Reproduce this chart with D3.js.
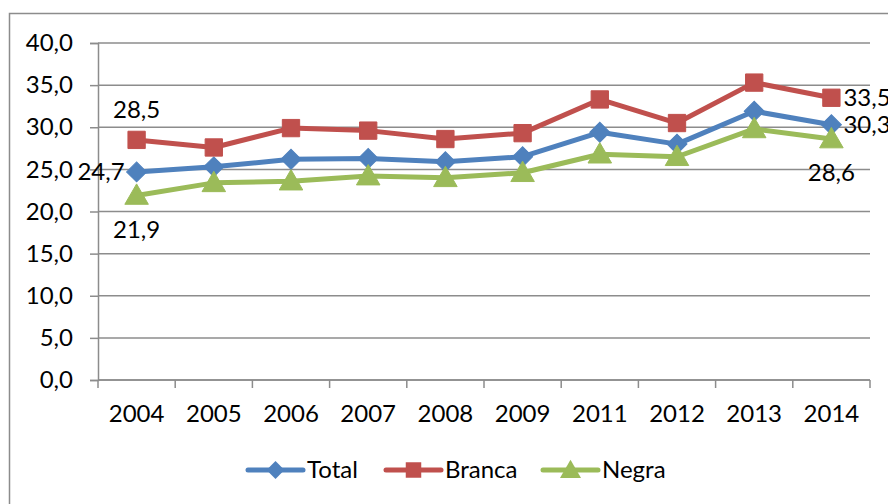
<!DOCTYPE html>
<html>
<head>
<meta charset="utf-8">
<script src="https://cdn.jsdelivr.net/npm/d3@7"></script>
<style>
  body { margin: 0; background: #fff; }
  svg text { font-family: Lato, "Open Sans", sans-serif; fill: #000; }
</style>
</head>
<body>
<div id="chart"></div>
<script>
var years = ["2004", "2005", "2006", "2007", "2008", "2009", "2011", "2012", "2013", "2014"];
var total = [24.7, 25.3, 26.2, 26.3, 25.9, 26.5, 29.4, 28.0, 31.9, 30.3];
var branca = [28.5, 27.6, 29.9, 29.6, 28.6, 29.3, 33.3, 30.5, 35.3, 33.5];
var negra = [21.9, 23.4, 23.6, 24.2, 24.0, 24.6, 26.8, 26.5, 29.8, 28.6];
var yTicks = [0, 5, 10, 15, 20, 25, 30, 35, 40];

var svgWidth = 888;
var svgHeight = 504;

var margin = { top: 43, left: 98, right: 18, bottom: 124 };
var width = svgWidth - margin.left - margin.right;
var height = svgHeight - margin.top - margin.bottom;

var svg = d3.select("#chart").append("svg")
    .attr("width", svgWidth)
    .attr("height", svgHeight);

// outer chart frame
svg.append("rect")
    .attr("x", 9.5).attr("y", 13.5)
    .attr("width", 900).attr("height", 520)
    .attr("fill", "none")
    .attr("stroke", "#8c8c8c")
    .attr("stroke-width", 1.5);

var g = svg.append("g")
    .attr("transform", `translate(${margin.left}, ${margin.top})`);

var x = d3.scaleBand().domain(years).range([0, width]);
var y = d3.scaleLinear().domain([0, 40]).range([height, 0]);

var fmt = v => d3.format(".1f")(v).replace(".", ",");

// gridlines
g.selectAll(".grid")
    .data(yTicks)
    .enter()
    .append("line")
    .attr("x1", 0).attr("x2", width)
    .attr("y1", d => y(d)).attr("y2", d => y(d))
    .attr("stroke", "#8c8c8c")
    .attr("stroke-width", 1.5);

// y axis
var leftAxis = d3.axisLeft(y).tickValues(yTicks).tickFormat(fmt).tickSize(8).tickPadding(17);
var yAxis = g.append("g").call(leftAxis);
yAxis.select(".domain").attr("stroke", "#8c8c8c").attr("stroke-width", 1.5);
yAxis.selectAll(".tick line").attr("stroke", "#8c8c8c").attr("stroke-width", 1.5);
yAxis.selectAll("text").attr("font-size", "24px").attr("fill", "#000");

// x axis
var bottomAxis = d3.axisBottom(x).tickSize(0).tickPadding(25);
var xAxis = g.append("g").attr("transform", `translate(0, ${height})`).call(bottomAxis);
xAxis.select(".domain").remove();
xAxis.selectAll("text").attr("font-size", "24px").attr("fill", "#000");

g.append("line")
    .attr("x1", 0).attr("x2", width)
    .attr("y1", height).attr("y2", height)
    .attr("stroke", "#8c8c8c").attr("stroke-width", 1.5);

var bounds = years.map(d => x(d)).concat([width]);
g.selectAll(".xtick")
    .data(bounds)
    .enter()
    .append("line")
    .attr("x1", d => d).attr("x2", d => d)
    .attr("y1", height).attr("y2", height + 8)
    .attr("stroke", "#8c8c8c").attr("stroke-width", 1.5);

var series = [
    { name: "Total", values: total, color: "#4f81bd", symbol: d3.symbolSquare, size: 200, rot: 45, dy: 0 },
    { name: "Branca", values: branca, color: "#c0504d", symbol: d3.symbolSquare, size: 300, rot: 0, dy: 0 },
    { name: "Negra", values: negra, color: "#9bbb59", symbol: d3.symbolTriangle, size: 240, rot: 0, dy: 2 }
];

var cx = d => x(d) + x.bandwidth() / 2;

var line = d3.line()
    .x((d, i) => cx(years[i]))
    .y(d => y(d));

series.forEach(function (s) {
    g.append("path")
        .datum(s.values)
        .attr("d", line)
        .attr("fill", "none")
        .attr("stroke", s.color)
        .attr("stroke-width", 5)
        .attr("stroke-linejoin", "round");
});

series.forEach(function (s) {
    var sym = d3.symbol().type(s.symbol).size(s.size);
    g.selectAll(null)
        .data(s.values)
        .enter()
        .append("path")
        .attr("d", sym)
        .attr("transform", (d, i) => `translate(${cx(years[i])}, ${y(d) + s.dy}) rotate(${s.rot})`)
        .attr("fill", s.color)
        .attr("stroke", s.color)
        .attr("stroke-width", 1);
});

// data labels (first and last points)
var n = years.length - 1;
var labels = [
    { v: branca[0], x: cx(years[0]), y: y(branca[0]) - 22, anchor: "middle" },
    { v: total[0], x: cx(years[0]) - 12, y: y(total[0]) + 8, anchor: "end" },
    { v: negra[0], x: cx(years[0]), y: y(negra[0]) + 43, anchor: "middle" },
    { v: branca[n], x: cx(years[n]) + 12, y: y(branca[n]) + 8, anchor: "start" },
    { v: total[n], x: cx(years[n]) + 12, y: y(total[n]) + 8, anchor: "start" },
    { v: negra[n], x: cx(years[n]), y: y(negra[n]) + 42, anchor: "middle" }
];
g.selectAll(".dl")
    .data(labels)
    .enter()
    .append("text")
    .attr("x", d => d.x)
    .attr("y", d => d.y)
    .attr("text-anchor", d => d.anchor)
    .attr("font-size", "24px")
    .text(d => fmt(d.v));

// legend
var legendX = [248, 386, 543];
var legend = svg.append("g");
series.forEach(function (s, i) {
    var lx = legendX[i];
    var ly = 470;
    legend.append("line")
        .attr("x1", lx).attr("x2", lx + 55)
        .attr("y1", ly).attr("y2", ly)
        .attr("stroke", s.color).attr("stroke-width", 5)
        .attr("stroke-linecap", "round");
    legend.append("path")
        .attr("d", d3.symbol().type(s.symbol).size(s.size * 0.8))
        .attr("transform", `translate(${lx + 27.5}, ${ly + s.dy}) rotate(${s.rot})`)
        .attr("fill", s.color);
    legend.append("text")
        .attr("x", lx + 59)
        .attr("y", ly + 8)
        .attr("font-size", "24px")
        .text(s.name);
});
</script>
</body>
</html>
